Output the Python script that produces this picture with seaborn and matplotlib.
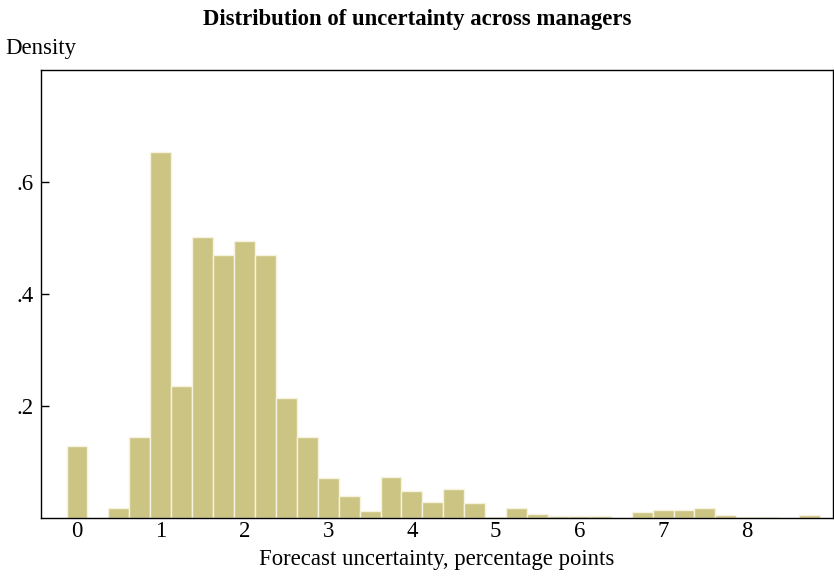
import numpy as np
import matplotlib
matplotlib.use("Agg")
import matplotlib.pyplot as plt
import seaborn as sns

# bin centres (width 0.25) and density heights
bin_centers = [0.0, 0.25, 0.5, 0.75, 1.0, 1.25, 1.5, 1.75, 2.0, 2.25, 2.5, 2.75,
               3.0, 3.25, 3.5, 3.75, 4.0, 4.25, 4.5, 4.75, 5.0, 5.25, 5.5, 5.75,
               6.0, 6.25, 6.5, 6.75, 7.0, 7.25, 7.5, 7.75, 8.0, 8.25, 8.5, 8.75]
density = [0.129, 0.0, 0.017, 0.145, 0.654, 0.236, 0.501, 0.469, 0.495, 0.469, 0.215, 0.145,
           0.071, 0.039, 0.013, 0.074, 0.048, 0.029, 0.052, 0.026, 0.002, 0.017, 0.007, 0.004,
           0.004, 0.004, 0.0, 0.011, 0.015, 0.015, 0.017, 0.005, 0.001, 0.001, 0.0, 0.005]
xticks = [0, 1, 2, 3, 4, 5, 6, 7, 8]
yticks = [0.2, 0.4, 0.6]
ytick_labels = [".2", ".4", ".6"]

sns.set_style("ticks")
plt.rcParams['font.family'] = ['Liberation Serif', 'DejaVu Serif']
plt.rcParams['text.color'] = 'black'

fs = 16.4

fig = plt.figure(figsize=(8.34, 5.83), dpi=100)
ax = fig.add_axes([0.0492, 0.1115, 0.9496, 0.7685])

sns.histplot(x=bin_centers, weights=density, binwidth=0.25, binrange=(-0.125, 8.875),
             stat='count', color='#ccc482', alpha=1.0, edgecolor='#f5f2e0',
             linewidth=1.0, ax=ax)

ax.set_xlim(-0.43, 9.03)
ax.set_ylim(0, 0.8)
ax.set_xticks(xticks)
ax.set_xticklabels([str(t) for t in xticks])
ax.set_yticks(yticks)
ax.set_yticklabels(ytick_labels)
ax.tick_params(axis='y', direction='in', length=6, width=1, labelsize=fs,
               colors='black', pad=5.5)
ax.tick_params(axis='x', length=0, labelsize=fs, colors='black', pad=2)

for side in ['top', 'right', 'left', 'bottom']:
    ax.spines[side].set_visible(True)
    ax.spines[side].set_color('black')
    ax.spines[side].set_linewidth(1.0)

ax.set_xlabel('Forecast uncertainty, percentage points', fontsize=fs, labelpad=5,
              color='black')
ax.set_ylabel('')
fig.text(0.006, 0.917, 'Density', fontsize=fs, ha='left', va='center', color='black')
fig.suptitle('Distribution of uncertainty across managers', fontsize=fs,
             fontweight='bold', x=0.5, y=0.957, va='baseline', color='black')

plt.savefig('out.png', dpi=100)
